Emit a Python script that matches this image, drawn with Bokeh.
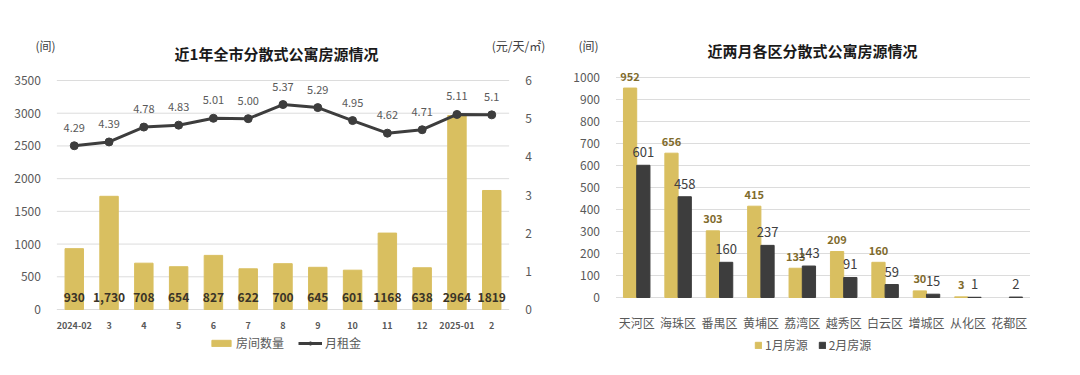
from bokeh.plotting import figure
from bokeh.models import (ColumnDataSource, FactorRange, Range1d, LinearAxis, FixedTicker,
                          Legend, LegendItem, Label)
from bokeh.layouts import row
from bokeh.embed import file_html
from bokeh.resources import INLINE
from bokeh.core.properties import value
from bokeh.transform import dodge

FONT = "Noto Sans CJK SC"
GOLD = "#D9BF60"
DARK = "#3D3D3D"
GREY = "#595959"
H = 375

# ---- left chart data ----
months = ["2024-02", "3", "4", "5", "6", "7", "8", "9", "10", "11", "12", "2025-01", "2"]
rooms = [930, 1730, 708, 654, 827, 622, 700, 645, 601, 1168, 638, 2964, 1819]
room_labels = ["930", "1,730", "708", "654", "827", "622", "700", "645", "601", "1168", "638", "2964", "1819"]
rent = [4.29, 4.39, 4.78, 4.83, 5.01, 5.00, 5.37, 5.29, 4.95, 4.62, 4.71, 5.11, 5.1]
rent_labels = ["4.29", "4.39", "4.78", "4.83", "5.01", "5.00", "5.37", "5.29", "4.95", "4.62", "4.71", "5.11", "5.1"]
left_ticks = [0, 500, 1000, 1500, 2000, 2500, 3000, 3500]
rent_ticks = [0, 1, 2, 3, 4, 5, 6]

# ---- right chart data ----
districts = ["天河区", "海珠区", "番禺区", "黄埔区", "荔湾区", "越秀区", "白云区", "增城区", "从化区", "花都区"]
jan = [952, 656, 303, 415, 133, 209, 160, 30, 3, float("nan")]
jan_labels = ["952", "656", "303", "415", "133", "209", "160", "30", "3", ""]
feb = [601, 458, 160, 237, 143, 91, 59, 15, 1, 2]
feb_labels = ["601", "458", "160", "237", "143", "91", "59", "15", "1", "2"]
right_ticks = [0, 100, 200, 300, 400, 500, 600, 700, 800, 900, 1000]


def span_range(vmax, top_px, zero_px):
    """y range so that vmax sits at top_px and 0 at zero_px (pixels from top) on a full-height frame."""
    k = (zero_px - top_px) / vmax
    return Range1d(-(H - zero_px) / k, vmax + top_px / k)


def style_axis(ax, size="12px"):
    ax.axis_line_color = None
    ax.major_tick_line_color = None
    ax.minor_tick_line_color = None
    ax.major_label_text_color = GREY
    ax.major_label_text_font = FONT
    ax.major_label_text_font_size = size


def add_label(p, text, x, y_top, size="12px", bold=False, color="#404040"):
    p.add_layout(Label(x=x, y=H - y_top, x_units="screen", y_units="screen", text=text,
                       text_align="center", text_baseline="middle", text_font=FONT,
                       text_font_size=size, text_font_style="bold" if bold else "normal",
                       text_color=color))


# =================== LEFT ===================
src1 = ColumnDataSource(dict(m=months, rooms=rooms, rl=room_labels, rent=rent, tl=rent_labels))
p1 = figure(x_range=FactorRange(*months, range_padding=1.62, range_padding_units="absolute"),
            y_range=span_range(3500, 80, 309), width=565, height=H,
            output_backend="svg", toolbar_location=None,
            min_border_left=0, min_border_right=0, min_border_top=0, min_border_bottom=0)
p1.extra_y_ranges = {"rent": span_range(6, 80, 309)}
p1.outline_line_color = None
p1.xgrid.visible = False
p1.ygrid.visible = False

p1.segment(x0=0, x1=len(months), y0=left_ticks, y1=left_ticks, line_color="#DCDCDC", line_width=1)
bars = p1.vbar(x="m", top="rooms", width=0.53, color=GOLD, source=src1)
p1.text(x="m", y=0, text="rl", source=src1, y_offset=-12, text_align="center", text_baseline="middle",
        text_font=value(FONT), text_font_size="12px", text_font_style="bold", text_color="#3A3428")
ln = p1.line(x="m", y="rent", y_range_name="rent", line_width=3, color=DARK, source=src1)
dots = p1.scatter(x="m", y="rent", y_range_name="rent", size=8, color=DARK, source=src1)
p1.text(x="m", y="rent", text="tl", y_range_name="rent", source=src1, y_offset=-18,
        text_align="center", text_baseline="middle", text_font=value(FONT), text_font_size="11px",
        text_color=GREY)

p1.yaxis.ticker = FixedTicker(ticks=left_ticks)
p1.yaxis.fixed_location = 0
style_axis(p1.yaxis[0])
p1.yaxis.major_label_standoff = 10
style_axis(p1.xaxis[0], "9px")
p1.xaxis.fixed_location = 0
p1.xaxis.major_label_text_font_style = "bold"
p1.xaxis.major_label_standoff = 6
ax_r = LinearAxis(y_range_name="rent", ticker=FixedTicker(ticks=rent_ticks), fixed_location=len(months))
style_axis(ax_r)
ax_r.major_label_standoff = 10
p1.add_layout(ax_r, "right")

leg1 = Legend(items=[LegendItem(label="房间数量", renderers=[bars]),
                     LegendItem(label="月租金", renderers=[ln, dots])],
              orientation="horizontal", location=(209, 24), glyph_width=24, glyph_height=8,
              label_text_font=FONT, label_text_font_size="12px", label_text_color=GREY,
              border_line_color=None, background_fill_alpha=0, spacing=14, margin=0, padding=2,
              label_standoff=3)
p1.add_layout(leg1)

add_label(p1, "近1年全市分散式公寓房源情况", 276, 53, size="15px", bold=True, color="#1A1A1A")
add_label(p1, "(间)", 45, 45)
add_label(p1, "(元/天/㎡)", 518, 45)

# =================== RIGHT ===================
src2 = ColumnDataSource(dict(d=districts, jan=jan, jl=jan_labels, feb=feb, fl=feb_labels))
p2 = figure(x_range=FactorRange(*districts, range_padding=1.22, range_padding_units="absolute"),
            y_range=span_range(1000, 77, 297), width=515, height=H,
            output_backend="svg", toolbar_location=None,
            min_border_left=0, min_border_right=0, min_border_top=0, min_border_bottom=0)
p2.outline_line_color = None
p2.xgrid.visible = False
p2.ygrid.visible = False

p2.segment(x0=0, x1=len(districts), y0=right_ticks, y1=right_ticks, line_color="#DCDCDC", line_width=1)
b_jan = p2.vbar(x=dodge("d", -0.16, range=p2.x_range), top="jan", width=0.32, color=GOLD, source=src2)
b_feb = p2.vbar(x=dodge("d", 0.16, range=p2.x_range), top="feb", width=0.32, color=DARK, source=src2)
p2.text(x=dodge("d", -0.16, range=p2.x_range), y="jan", text="jl", source=src2, y_offset=-12,
        text_align="center", text_baseline="middle", text_font=value(FONT), text_font_size="11px",
        text_font_style="bold", text_color="#7F6B2C")
p2.text(x=dodge("d", 0.16, range=p2.x_range), y="feb", text="fl", source=src2, y_offset=-13,
        text_align="center", text_baseline="middle", text_font=value(FONT), text_font_size="13px",
        text_color="#404040")

p2.yaxis.ticker = FixedTicker(ticks=right_ticks)
p2.yaxis.fixed_location = 0
style_axis(p2.yaxis[0])
p2.yaxis.major_label_standoff = 10
style_axis(p2.xaxis[0], "12px")
p2.xaxis.fixed_location = 0
p2.xaxis.major_label_standoff = 10

leg2 = Legend(items=[LegendItem(label="1月房源", renderers=[b_jan]),
                     LegendItem(label="2月房源", renderers=[b_feb])],
              orientation="horizontal", location=(189, 22), glyph_width=8, glyph_height=8,
              label_text_font=FONT, label_text_font_size="12px", label_text_color=GREY,
              border_line_color=None, background_fill_alpha=0, spacing=10, margin=0, padding=2,
              label_standoff=3)
p2.add_layout(leg2)

add_label(p2, "近两月各区分散式公寓房源情况", 247, 50, size="15px", bold=True, color="#1A1A1A")
add_label(p2, "(间)", 23, 45)

layout = row(p1, p2)
open("out.html", "w").write(file_html(layout, INLINE))
